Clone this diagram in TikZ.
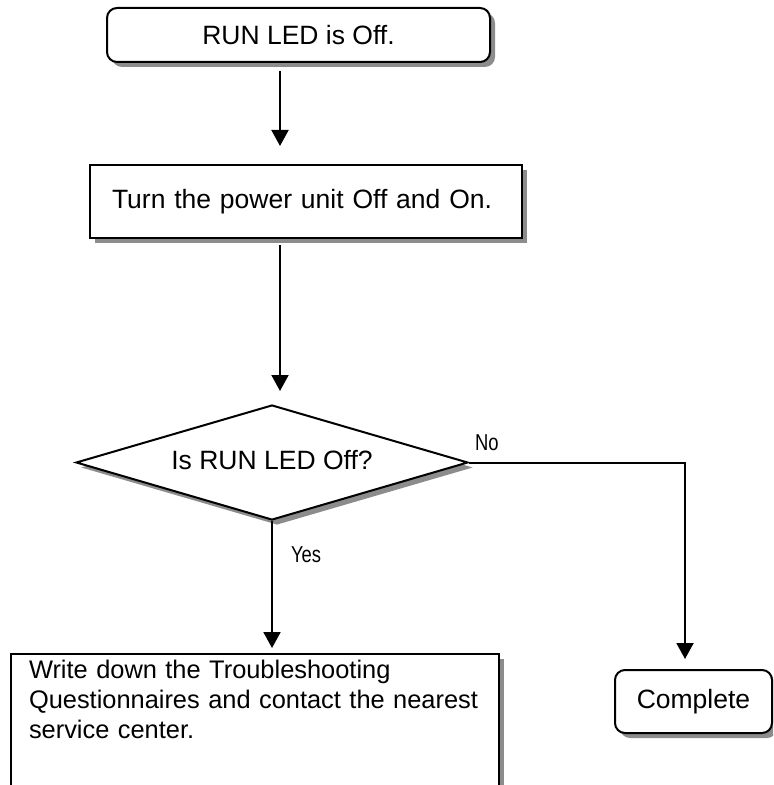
\documentclass[tikz,border=0pt]{standalone}
\usepackage{fontspec}
\setmainfont{Liberation Sans}
\newfontfamily\lblfont[FakeStretch=0.8]{Liberation Sans}
\usetikzlibrary{shapes.geometric,shadows,arrows.meta}

\begin{document}
\begin{tikzpicture}[x=0.5pt, y=-0.5pt, line width=1pt,
  every node/.style={font=\fontsize{13.25pt}{15pt}\selectfont},
  boxshadow/.style={drop shadow={shadow xshift=2.5pt,shadow yshift=-2.5pt,fill=black!45,opacity=1}},
  termbox/.style={draw,fill=white,boxshadow,rounded corners=5pt,inner sep=0pt,align=center},
  procbox/.style={draw,fill=white,boxshadow,inner xsep=9pt,align=left},
  decide/.style={draw,fill=white,boxshadow,diamond,aspect=3.41,inner sep=0pt},
  lbl/.style={font=\lblfont\fontsize{11.5pt}{13pt}\selectfont,inner sep=0pt,anchor=base west},
  flowarr/.style={-{Triangle[width=8.5pt,length=8pt]}}]
\clip (0,0) rectangle (773,785);
\node[termbox,minimum width=191.5pt,minimum height=27pt] (ledoff) at (298.5,35) {RUN LED is Off.};
\node[procbox,text width=194pt,inner xsep=11pt,minimum height=36.5pt] (cycle) at (306,201.5) {Turn the power unit Off and On.};
\node[decide,minimum width=196pt,minimum height=57.5pt] (chk) at (272,462.5) {\raisebox{3pt}{Is RUN LED Off?}};
\node[termbox,minimum width=78.5pt,minimum height=31.5pt] (done) at (693.5,701.5) {Complete};
\node[procbox,anchor=north west,text width=226pt,inner ysep=3pt,text depth=75pt,
  font=\fontsize{12.7pt}{15pt}\selectfont] (ask) at (10,653)
  {Write down the Troubleshooting\\Questionnaires and contact the nearest\\service center.};
\node[lbl] (no) at (474,450) {No};
\node[lbl] (yes) at (290,562) {Yes};
% connectors
\coordinate (stem) at (280,0);
\coordinate (nocol) at (685,0);
\draw[flowarr,shorten <=4pt,shorten >=9pt] (ledoff.south -| stem) -- (cycle.north -| stem);
\draw[flowarr,shorten <=3pt,shorten >=6.5pt] (cycle.south -| stem) -- (chk.north -| stem);
\draw[flowarr,shorten >=2.5pt] (chk.south) -- (ask.north -| chk.south);
\draw[flowarr,shorten >=5pt] (chk.east) -| (done.north -| nocol);
\end{tikzpicture}
\end{document}
